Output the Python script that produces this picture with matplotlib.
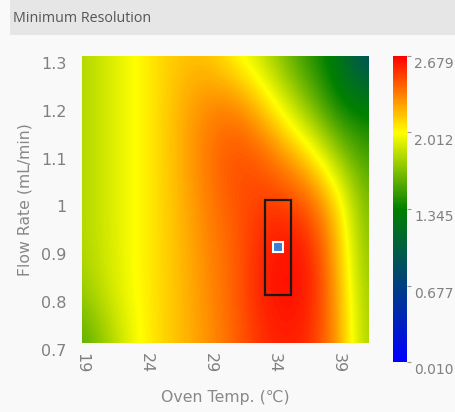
import matplotlib
matplotlib.use('Agg')
import matplotlib.pyplot as plt
import matplotlib.transforms as mtransforms
from matplotlib.colors import LinearSegmentedColormap
from matplotlib.patches import Rectangle
import numpy as np

# Grid nodes
oven_temp = [19, 21, 23, 25, 27, 29, 31, 33, 35, 37, 39, 41]
flow_rate = [0.7, 0.8, 0.9, 1.0, 1.1, 1.2, 1.3]
# rows = flow rate (0.7 -> 1.3), cols = oven temp
resolution = [
    [1.55, 1.75, 1.97, 2.10, 2.20, 2.30, 2.42, 2.55, 2.60, 2.55, 2.28, 1.78],
    [1.72, 1.88, 2.00, 2.10, 2.20, 2.32, 2.43, 2.60, 2.65, 2.60, 2.25, 1.75],
    [1.80, 1.90, 2.00, 2.10, 2.21, 2.33, 2.43, 2.58, 2.65, 2.58, 2.20, 1.70],
    [1.80, 1.90, 2.00, 2.10, 2.22, 2.36, 2.46, 2.52, 2.50, 2.40, 2.10, 1.65],
    [1.80, 1.90, 2.00, 2.10, 2.24, 2.38, 2.48, 2.42, 2.25, 2.05, 1.72, 1.50],
    [1.80, 1.90, 2.00, 2.10, 2.23, 2.33, 2.33, 2.15, 1.90, 1.62, 1.35, 1.30],
    [1.80, 1.90, 2.00, 2.10, 2.17, 2.15, 2.00, 1.85, 1.62, 1.42, 1.25, 0.80],
]
cbar_ticks = [0.010, 0.677, 1.345, 2.012, 2.679]
x_ticks = [19, 24, 29, 34, 39]
y_ticks = [0.7, 0.8, 0.9, 1.0, 1.1, 1.2, 1.3]
y_ticklabels = ['0.7', '0.8', '0.9', '1', '1.1', '1.2', '1.3']
design_space = (33.3, 0.8, 2.0, 0.2)   # x, y, width, height
optimum = (34.3, 0.9)

cmap = LinearSegmentedColormap.from_list(
    'res', [(0, '#0000ff'), (0.5, '#008000'), (0.75, '#ffff00'), (1, '#ff0000')])

fig = plt.figure(figsize=(4.55, 4.12), dpi=100, facecolor='#f9f9f9')

# title band
fig.patches.append(Rectangle((10/455, 1 - 35/412), 1, 35/412, transform=fig.transFigure,
                             facecolor='#e6e6e6', edgecolor='none', zorder=0))
fig.text(13/455, 1 - 18/412, 'Minimum Resolution', fontsize=10.3, color='#555555',
         family='Open Sans', va='center', ha='left')

ax = fig.add_axes([82/455, 1 - 343/412, 287/455, 287/412])
ax.set_facecolor('#f9f9f9')
dx = (oven_temp[1] - oven_temp[0]) / 2
dy = (flow_rate[1] - flow_rate[0]) / 2
img = ax.imshow(np.array(resolution), origin='lower', cmap=cmap, aspect='auto',
                interpolation='bicubic', vmin=cbar_ticks[0], vmax=cbar_ticks[-1],
                extent=[oven_temp[0] - dx, oven_temp[-1] + dx,
                        flow_rate[0] - dy, flow_rate[-1] + dy])

ax.add_patch(Rectangle(design_space[:2], design_space[2], design_space[3],
                       fill=False, edgecolor='#1a1a1a', linewidth=1.6, zorder=3))
ax.plot(*optimum, marker='s', markersize=6.5, color='#3b7fd9',
        markeredgecolor='white', markeredgewidth=1.5, zorder=4)

ax.set_xlim(19, 41.4)
ax.set_ylim(0.7, 1.3)
ax.set_xticks(x_ticks)
ax.set_xticklabels([str(t) for t in x_ticks], rotation=-90)
ax.set_yticks(y_ticks)
ax.set_yticklabels(y_ticklabels)
ax.tick_params(axis='both', length=0, labelsize=11.5, labelcolor='#808080')
ax.tick_params(axis='y', pad=11)
ax.tick_params(axis='x', pad=7)
for s in ax.spines.values():
    s.set_visible(False)
ax.set_xlabel('Oven Temp. (℃)', fontsize=11.3, color='#888888', labelpad=12)
ax.set_ylabel('Flow Rate (mL/min)', fontsize=11.3, color='#888888', labelpad=6)

# labels sit a few pixels below their ticks in the reference
shift = mtransforms.ScaledTranslation(0, -5/72, fig.dpi_scale_trans)
for lbl in ax.get_yticklabels():
    lbl.set_transform(lbl.get_transform() + shift)

cax = fig.add_axes([393/455, 1 - 362/412, 14/455, 306/412])
cb = fig.colorbar(img, cax=cax, ticks=cbar_ticks)
cb.ax.set_yticklabels([f'{t:.3f}' for t in cbar_ticks])
cb.outline.set_visible(False)
cb.ax.tick_params(length=3, width=0.8, color='#999999', labelsize=10,
                  labelcolor='#808080', pad=2)
for lbl in cb.ax.get_yticklabels():
    lbl.set_transform(lbl.get_transform() + shift)

plt.savefig('out.png', dpi=100, facecolor=fig.get_facecolor())
